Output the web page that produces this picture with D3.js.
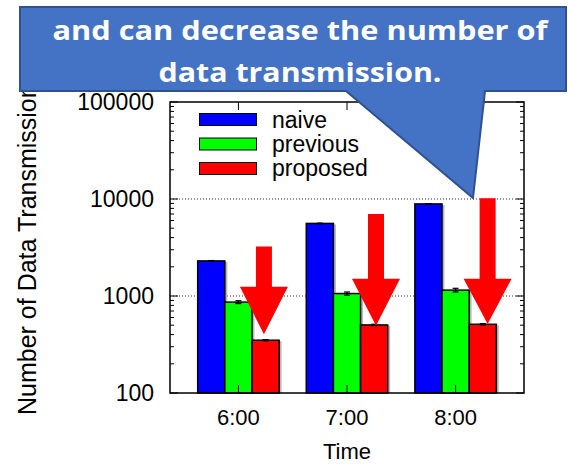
<!DOCTYPE html>
<html><head><meta charset="utf-8">
<script src="https://cdn.jsdelivr.net/npm/d3@7"></script>
<style>body{margin:0;background:#fff}svg{display:block}</style>
</head><body>
<svg id="c" width="568" height="464"></svg>
<script>
const categories = ["6:00", "7:00", "8:00"];
const seriesNames = ["naive", "previous", "proposed"];
const naive = [2300, 5600, 8900];
const previous = [865, 1060, 1150];
const proposed = [350, 503, 511];
const naiveErr = [20, 40, 60];
const previousErr = [30, 40, 50];
const proposedErr = [5, 8, 8];
const yTicks = [100, 1000, 10000, 100000];
const yTickLabels = ["100", "1000", "10000", "100000"];
const colors = ["#0000ff", "#00ff00", "#ff0000"];
// annotation arrows (data units)
const arrowOffset = [0.235, 0.267, 0.295];
const arrowTop = [3240, 7000, 10170];
const arrowHeadTop = [1245, 1508, 1508];
const arrowTip = [403, 494, 515];
const calloutLines = ["and can decrease the number of", "data transmission."];

const svg = d3.select("#c");
const L = 170, R = 524, T = 102, B = 393;
const x = d3.scaleLinear().domain([-0.63, 2.63]).range([L, R]);
const y = d3.scaleLog().domain([100, 100000]).range([B, T]);
const unit = x(1) - x(0);
const bw = 0.25;
const font = "Liberation Sans, Arial, sans-serif";

const series = [naive, previous, proposed];
const errs = [naiveErr, previousErr, proposedErr];

// grid lines
svg.append("g").selectAll("line").data([1000, 10000]).join("line")
  .attr("x1", L).attr("x2", R).attr("y1", d => y(d)).attr("y2", d => y(d))
  .attr("stroke", "#333").attr("stroke-width", 1).attr("stroke-dasharray", "1,2");

// bars
const bars = [];
series.forEach((vals, s) => vals.forEach((v, i) => bars.push({s, i, v, e: errs[s][i]})));
const bx = d => x(d.i + (d.s - 1) * bw - bw / 2);
svg.append("g").selectAll("rect").data(bars).join("rect")
  .attr("x", d => bx(d) + 2.5).attr("y", d => y(d.v) + 1)
  .attr("width", bw * unit).attr("height", d => B - y(d.v) - 1)
  .attr("fill", "#bbb");
svg.append("g").selectAll("rect").data(bars).join("rect")
  .attr("x", bx).attr("y", d => y(d.v))
  .attr("width", bw * unit).attr("height", d => B - y(d.v))
  .attr("fill", d => colors[d.s]).attr("stroke", "#000").attr("stroke-width", 1.5);
// error bars
const eg = svg.append("g").attr("stroke", "#000").attr("stroke-width", 1.2);
bars.forEach(d => {
  const cx = x(d.i + (d.s - 1) * bw);
  eg.append("line").attr("x1", cx).attr("x2", cx).attr("y1", y(d.v + d.e)).attr("y2", y(d.v - d.e));
  eg.append("line").attr("x1", cx - 3).attr("x2", cx + 3).attr("y1", y(d.v + d.e)).attr("y2", y(d.v + d.e));
  eg.append("line").attr("x1", cx - 3).attr("x2", cx + 3).attr("y1", y(d.v - d.e)).attr("y2", y(d.v - d.e));
});

// axes ticks
const minor = [];
for (let p = 100; p < 100000; p *= 10) for (let k = 2; k <= 9; k++) minor.push(p * k);
const tg = svg.append("g").attr("stroke", "#000").attr("stroke-width", 1);
minor.forEach(v => {
  tg.append("line").attr("x1", L).attr("x2", L + 4).attr("y1", y(v)).attr("y2", y(v));
  tg.append("line").attr("x1", R).attr("x2", R - 4).attr("y1", y(v)).attr("y2", y(v));
});
yTicks.forEach(v => {
  tg.append("line").attr("x1", L).attr("x2", L + 8).attr("y1", y(v)).attr("y2", y(v));
  tg.append("line").attr("x1", R).attr("x2", R - 8).attr("y1", y(v)).attr("y2", y(v));
});
categories.forEach((c, i) => {
  tg.append("line").attr("x1", x(i)).attr("x2", x(i)).attr("y1", T).attr("y2", T + 8);
  tg.append("line").attr("x1", x(i)).attr("x2", x(i)).attr("y1", B).attr("y2", B - 8);
});
// frame
svg.append("rect").attr("x", L).attr("y", T).attr("width", R - L).attr("height", B - T)
  .attr("fill", "none").attr("stroke", "#000").attr("stroke-width", 1.5);

// tick labels
svg.append("g").selectAll("text").data(yTicks).join("text")
  .attr("x", L - 16).attr("y", d => y(d)).attr("dy", "0.35em")
  .attr("text-anchor", "end").attr("font-family", font).attr("font-size", 23)
  .text((d, i) => yTickLabels[i]);
svg.append("g").selectAll("text").data(categories).join("text")
  .attr("x", (d, i) => x(i)).attr("y", 425)
  .attr("text-anchor", "middle").attr("font-family", font).attr("font-size", 22)
  .text(d => d);
svg.append("text").attr("x", (L + R) / 2).attr("y", 459).attr("text-anchor", "middle")
  .attr("font-family", font).attr("font-size", 22).text("Time");
svg.append("text").attr("transform", "translate(36,415) rotate(-90)")
  .attr("font-family", font).attr("font-size", 25).text("Number of Data Transmission");

// legend
const lg = svg.append("g");
seriesNames.forEach((n, i) => {
  lg.append("rect").attr("x", 199.5).attr("y", 113.5 + i * 24.5).attr("width", 57).attr("height", 12)
    .attr("fill", colors[i]).attr("stroke", "#000").attr("stroke-width", 1);
  lg.append("text").attr("x", 272).attr("y", 127.5 + i * 24)
    .attr("font-family", font).attr("font-size", 23).text(n);
});

// red arrows
const ag = svg.append("g");
categories.forEach((c, i) => {
  const cx = x(i + arrowOffset[i]);
  const sw = 8, hw = 24;
  const ht = y(arrowHeadTop[i]);
  ag.append("path").attr("fill", "#ff0000").attr("d",
    `M${cx - sw},${y(arrowTop[i])} L${cx + sw},${y(arrowTop[i])} L${cx + sw},${ht} L${cx + hw},${ht} L${cx},${y(arrowTip[i])} L${cx - hw},${ht} L${cx - sw},${ht} Z`);
});

// callout
svg.append("path").attr("fill", "#4472C4").attr("stroke", "#2F528F").attr("stroke-width", 2)
  .attr("d", "M20,7 L566,7 L566,91 L485,91 L473,198 L346,91 L20,91 Z");
svg.append("text").attr("x", 300).attr("y", 39.5).attr("text-anchor", "middle")
  .attr("font-family", "Open Sans, sans-serif").attr("font-weight", "bold").attr("font-size", 27)
  .attr("fill", "#fff").attr("textLength", 495).attr("lengthAdjust", "spacingAndGlyphs").text(calloutLines[0]);
svg.append("text").attr("x", 300).attr("y", 81.5).attr("text-anchor", "middle")
  .attr("font-family", "Open Sans, sans-serif").attr("font-weight", "bold").attr("font-size", 27)
  .attr("fill", "#fff").attr("textLength", 283).attr("lengthAdjust", "spacingAndGlyphs").text(calloutLines[1]);
</script>
</body></html>
